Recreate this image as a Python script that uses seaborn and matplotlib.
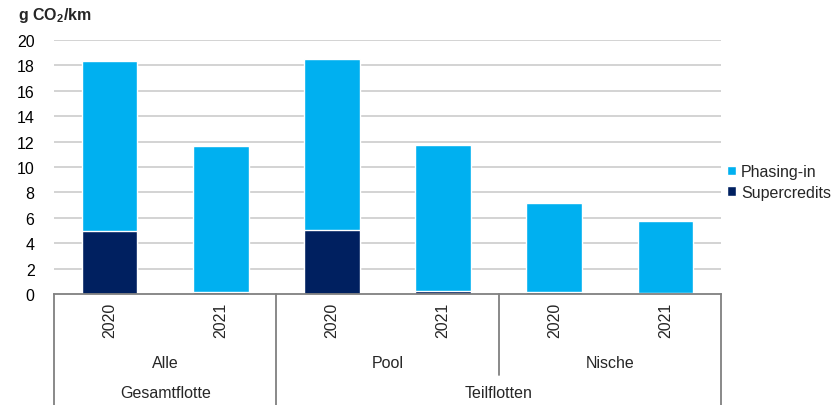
import matplotlib
matplotlib.use("Agg")
import matplotlib.pyplot as plt
import seaborn as sns
import pandas as pd
from matplotlib.lines import Line2D
from matplotlib.patches import Patch

# ---- data ----
groups = ["Alle", "Alle", "Pool", "Pool", "Nische", "Nische"]
years = ["2020", "2021", "2020", "2021", "2020", "2021"]
supercredits = [4.95, 0.15, 5.05, 0.2, 0.15, 0.05]
phasing_in = [13.4, 11.5, 13.45, 11.55, 7.0, 5.7]
subgroups = ["Alle", "Pool", "Nische"]
supergroups = ["Gesamtflotte", "Teilflotten"]
yticks = [0, 2, 4, 6, 8, 10, 12, 14, 16, 18, 20]

LIGHT = "#00B0F0"
DARK = "#002060"

sns.set_theme(style="white")
plt.rcParams["font.family"] = ["Liberation Sans", "DejaVu Sans"]
plt.rcParams["mathtext.fontset"] = "custom"
plt.rcParams["mathtext.rm"] = "Liberation Sans"
plt.rcParams["mathtext.bf"] = "Liberation Sans:bold"

labels = [f"{g}_{y}" for g, y in zip(groups, years)]
df = pd.DataFrame({
    "cat": labels,
    "total": [s + p for s, p in zip(supercredits, phasing_in)],
    "sc": supercredits,
})

fig = plt.figure(figsize=(8.35, 4.06), dpi=100)
ax = fig.add_axes([0.0647, 0.2734, 0.7988, 0.6256])

sns.barplot(data=df, x="cat", y="total", order=labels, color=LIGHT,
            saturation=1, width=0.5, ax=ax, zorder=3)
sns.barplot(data=df, x="cat", y="sc", order=labels, color=DARK,
            saturation=1, width=0.5, ax=ax, zorder=4)

ax.set_xlim(-0.5, 5.5)
ax.set_ylim(0, 20)
ax.set_yticks(yticks)
ax.set_yticklabels([str(t) for t in yticks], fontsize=11.5, color="#000000")
ax.tick_params(axis="y", length=0, pad=14)
ax.set_xlabel("")
ax.set_ylabel("")
ax.set_xticks([])
for t in yticks[1:]:
    ax.axhline(t, color="#D0D0D0", lw=1.3, zorder=1)
for s in ["top", "right", "left"]:
    ax.spines[s].set_visible(False)
ax.spines["bottom"].set_color("#808080")
ax.spines["bottom"].set_linewidth(1.3)
ax.spines["bottom"].set_zorder(5)

# category axis labels (multi-level)
trans = ax.get_xaxis_transform()
def fy(pix):
    # figure pixel y (from top) -> axes fraction
    return (1 - pix / 406 - 0.2734) / 0.6256

for i, y in enumerate(years):
    ax.text(i, fy(303), y, rotation=90, ha="center", va="top",
            fontsize=11.5, transform=trans, clip_on=False)
for j, g in enumerate(subgroups):
    ax.text(2 * j + 0.5, fy(364), g, ha="center", va="center",
            fontsize=11.5, transform=trans, clip_on=False)
ax.text(0.5, fy(394), supergroups[0], ha="center", va="center",
        fontsize=11.5, transform=trans, clip_on=False)
ax.text(3.5, fy(394), supergroups[1], ha="center", va="center",
        fontsize=11.5, transform=trans, clip_on=False)

sep_col = "#808080"
for xpos, bottom in [(-0.5, 406), (1.5, 406), (3.5, 376), (5.5, 406)]:
    ax.add_line(Line2D([xpos, xpos], [0, fy(bottom)], transform=trans,
                       color=sep_col, lw=1.3, clip_on=False))

fig.text(0.021, 0.962, r"g CO$_\mathbf{2}$/km", fontsize=11.5,
         fontweight="bold", ha="left", va="center")

handles = [Patch(facecolor=LIGHT, label="Phasing-in"),
           Patch(facecolor=DARK, label="Supercredits")]
fig.legend(handles=handles, loc="center left", bbox_to_anchor=(0.871, 0.549),
           frameon=False, fontsize=11.5, handlelength=0.55, handleheight=0.55,
           handletextpad=0.3, labelspacing=0.35, borderaxespad=0,
           borderpad=0)

fig.savefig("out.png", dpi=100)
